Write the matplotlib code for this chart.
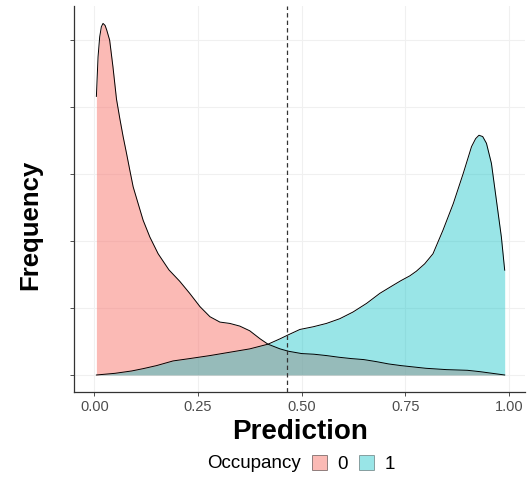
import matplotlib
matplotlib.use("Agg")
import matplotlib.pyplot as plt
from matplotlib.patches import Patch

plt.rcParams['font.family'] = ['Liberation Sans', 'DejaVu Sans']

# density curves
x_occ0 = [0.005, 0.009, 0.013, 0.017, 0.021, 0.026, 0.030, 0.037, 0.045, 0.0535,
          0.0615, 0.0695, 0.0777, 0.0856, 0.0937, 0.1057, 0.1178, 0.134, 0.154, 0.180,
          0.206, 0.230, 0.255, 0.279, 0.303, 0.327, 0.351, 0.375, 0.400, 0.419,
          0.448, 0.468, 0.500, 0.530, 0.560, 0.590, 0.620, 0.650, 0.680, 0.710,
          0.740, 0.770, 0.800, 0.850, 0.900, 0.930, 0.960, 0.990]
y_occ0 = [4.16, 4.75, 5.05, 5.20, 5.25, 5.22, 5.15, 5.00, 4.60, 4.12,
          3.83, 3.56, 3.31, 3.06, 2.81, 2.56, 2.31, 2.06, 1.81, 1.57,
          1.40, 1.22, 1.02, 0.87, 0.79, 0.77, 0.73, 0.66, 0.54, 0.46,
          0.39, 0.355, 0.32, 0.31, 0.29, 0.265, 0.245, 0.23, 0.20, 0.165,
          0.14, 0.12, 0.10, 0.08, 0.07, 0.05, 0.025, 0.0]

x_occ1 = [0.005, 0.050, 0.090, 0.118, 0.150, 0.190, 0.230, 0.279, 0.327, 0.375,
          0.419, 0.448, 0.468, 0.496, 0.528, 0.560, 0.592, 0.624, 0.657, 0.689,
          0.721, 0.740, 0.761, 0.777, 0.797, 0.817, 0.841, 0.866, 0.890, 0.910,
          0.920, 0.928, 0.937, 0.946, 0.958, 0.970, 0.982, 0.990]
y_occ1 = [0.0, 0.025, 0.06, 0.095, 0.14, 0.21, 0.245, 0.29, 0.34, 0.39,
          0.46, 0.54, 0.60, 0.68, 0.72, 0.77, 0.84, 0.94, 1.07, 1.22,
          1.34, 1.41, 1.48, 1.55, 1.66, 1.81, 2.16, 2.56, 3.01, 3.41,
          3.53, 3.58, 3.56, 3.46, 3.16, 2.61, 2.06, 1.565]

threshold = 0.465
x_ticks = [0.0, 0.25, 0.5, 0.75, 1.0]
x_labels = ['0.00', '0.25', '0.50', '0.75', '1.00']
y_ticks = [0, 1, 2, 3, 4, 5]

red = '#F8766D'
teal = '#00BFC4'

fig = plt.figure(figsize=(5.27, 4.79), dpi=100)
ax = fig.add_axes([74/527, 87/479, 451/527, 386/479])

ax.fill_between(x_occ0, 0, y_occ0, color=red, alpha=0.5, lw=0)
ax.plot(x_occ0, y_occ0, color='black', lw=0.7)
ax.fill_between(x_occ1, 0, y_occ1, color=teal, alpha=0.4, lw=0)
ax.plot(x_occ1, y_occ1, color='black', lw=0.7)
ax.axvline(threshold, color='#333333', lw=0.9, ls=(0, (3.5, 2.5)))

ax.set_xlim(-0.049, 1.039)
ax.set_ylim(-0.254, 5.51)
ax.set_xticks(x_ticks)
ax.set_xticklabels(x_labels)
ax.set_yticks(y_ticks)
ax.set_yticklabels([])
ax.tick_params(colors='#333333', labelcolor='#4D4D4D', labelsize=10.5,
               length=3, width=0.6, pad=3)
ax.grid(True, color='#F0F0F0', lw=0.8)
ax.set_axisbelow(True)
for s in ['top', 'right']:
    ax.spines[s].set_visible(False)
for s in ['left', 'bottom']:
    ax.spines[s].set_color('#333333')
    ax.spines[s].set_linewidth(0.9)

fig.text(300/527, 1 - 432/479, 'Prediction', ha='center', va='center',
         fontsize=20, fontweight='bold')
fig.text(30/527, 1 - 225/479, 'Frequency', ha='center', va='center',
         rotation=90, fontsize=18.5, fontweight='bold')

fig.text(207/527, 1 - 463/479, 'Occupancy', ha='left', va='center', fontsize=13.5)
handles = [Patch(facecolor=red, alpha=0.5, edgecolor='black', lw=0.6),
           Patch(facecolor=teal, alpha=0.4, edgecolor='black', lw=0.6)]
fig.legend(handles, ['0', '1'], ncol=2, frameon=False, fontsize=13.5,
           loc='center left', bbox_to_anchor=(312/527, 1 - 464/479),
           handlelength=0.8, handleheight=0.8, handletextpad=0.53,
           columnspacing=0.64, borderpad=0, borderaxespad=0)

fig.savefig('out.png', dpi=100)
